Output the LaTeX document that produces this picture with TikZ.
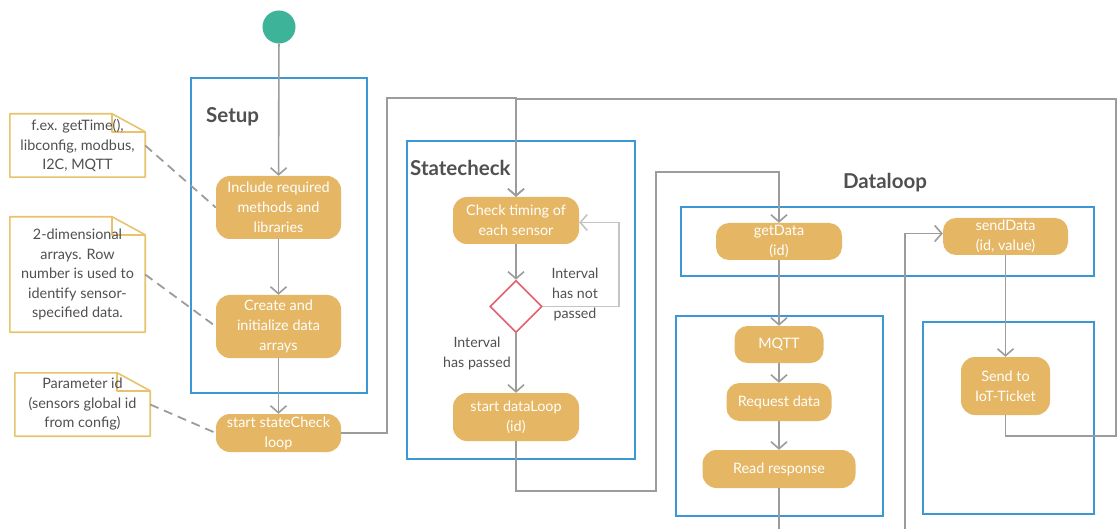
\documentclass[tikz,border=0pt]{standalone}
\usepackage{fontspec}
\setmainfont{Lato}
\usetikzlibrary{arrows.meta,shapes.geometric}
\definecolor{actgold}{HTML}{E5B664}
\definecolor{notegold}{HTML}{E8C36E}
\definecolor{grpblue}{HTML}{3C98D4}
\definecolor{linegray}{HTML}{9C9C9C}
\definecolor{lightline}{HTML}{C4C4C4}
\definecolor{startteal}{HTML}{3DB39A}
\definecolor{txtgray}{HTML}{505050}
\definecolor{decred}{HTML}{E2606E}
\tikzset{
  act/.style={fill=actgold, rounded corners=14pt, text=white, align=center,
    font=\fontsize{14.4}{20}\selectfont, inner sep=0pt},
  grp/.style={draw=grpblue, line width=1.6pt},
  flow/.style={draw=linegray, line width=1.6pt, -{Straight Barb[length=7pt,width=16pt]}},
  plain/.style={draw=linegray, line width=1.6pt},
  flowlight/.style={draw=lightline, line width=1.6pt, -{Straight Barb[length=7pt,width=16pt]}},
  dashline/.style={draw=linegray, line width=1.8pt, dash pattern=on 9pt off 6pt},
  notebox/.style={align=center, text=txtgray, font=\fontsize{14.4}{19.5}\selectfont, inner sep=0pt},
  grptitle/.style={text=txtgray, font=\fontsize{20.5}{24}\selectfont\bfseries, inner sep=0pt},
  lbl/.style={text=txtgray, align=center, font=\fontsize{14.2}{20}\selectfont, inner sep=0pt},
  dec/.style={diamond, draw=decred, fill=white, line width=1.6pt, minimum width=52pt, minimum height=52pt, inner sep=0pt, aspect=1},
}
\newcommand\drawnotefold[1]{%
  \draw[notegold, line width=1.6pt, line join=round]
    (#1.north west) -- ([xshift=-33pt]#1.north east) -- ([yshift=-18pt]#1.north east)
    -- (#1.south east) -- (#1.south west) -- cycle;
  \draw[notegold, line width=1.6pt, line join=round]
    ([xshift=-33pt]#1.north east) -- ([xshift=-33pt,yshift=-18pt]#1.north east) -- ([yshift=-18pt]#1.north east);
}
\begin{document}
\begin{tikzpicture}[x=1pt,y=-1pt]
\useasboundingbox (0,0) rectangle (1119,529);
\fill[white] (0,0) rectangle (1119,529);

% group boxes
\node[grp, minimum width=176pt, minimum height=315pt, inner sep=0pt] (gsetup) at (279,235.5) {};
\node[grp, minimum width=228pt, minimum height=318pt, inner sep=0pt] (gstate) at (521,300) {};
\node[grp, minimum width=413pt, minimum height=69pt, inner sep=0pt] (gtop) at (887.5,241.5) {};
\node[grp, minimum width=207pt, minimum height=200pt, inner sep=0pt] (gmqtt) at (779.5,416) {};
\node[grp, minimum width=171pt, minimum height=192pt, inner sep=0pt] (gsend) at (1008.5,418) {};

\node[grptitle, anchor=west] (tsetup) at (206,117) {Setup};
\node[grptitle, anchor=west] (tstate) at (410,168) {Statecheck};
\node[grptitle] (tdata) at (885,183) {Dataloop};

% start
\node[circle, fill=startteal, minimum size=33pt, inner sep=0pt] (start) at (279,27) {};

% notes (fold drawn before the text shows through)
\node[notebox, minimum width=135pt, minimum height=63pt] (n1) at (77.5,145.5) {};
\node[notebox, minimum width=135pt, minimum height=115pt] (n2) at (77.5,274.5) {};
\node[notebox, minimum width=135pt, minimum height=63pt] (n3) at (82.5,404.5) {};
\drawnotefold{n1}
\drawnotefold{n2}
\drawnotefold{n3}
\node[notebox] (n1t) at (n1) {f.ex. getTime(),\\libconfig, modbus,\\I2C, MQTT};
\node[notebox] (n2t) at (n2) {2-dimensional\\arrays. Row\\number is used to\\identify sensor-\\specified data.};
\node[notebox] (n3t) at (n3) {Parameter id\\(sensors global id\\from config)};

% activities
\node[act, minimum width=125pt, minimum height=63pt] (inc) at (278.5,207.5) {Include required\\methods and\\libraries};
\node[act, minimum width=125pt, minimum height=63pt] (cre) at (278.5,326.5) {Create and\\initialize data\\arrays};
\node[act, minimum width=125pt, minimum height=38pt] (stc) at (278.5,433) {start stateCheck\\loop};
\node[act, minimum width=126pt, minimum height=47pt] (chk) at (516,220.5) {Check timing of\\each sensor};
\node[dec] (dia) at (516,306.5) {};
\node[act, minimum width=126pt, minimum height=48pt] (dl) at (516,417) {start dataLoop\\(id)};
\node[act, minimum width=126pt, minimum height=37pt, rounded corners=13pt] (gd) at (779,241.5) {getData\\(id)};
\node[act, minimum width=125pt, minimum height=37pt, rounded corners=13pt] (snd) at (1005.5,236.5) {sendData\\(id, value)};
\node[act, minimum width=89pt, minimum height=37pt, rounded corners=13pt] (mq) at (779,344.5) {MQTT};
\node[act, minimum width=105pt, minimum height=38pt, rounded corners=13pt] (rq) at (779,402) {Request data};
\node[act, minimum width=153pt, minimum height=38pt, rounded corners=14pt] (rr) at (779,469) {Read response};
\node[act, minimum width=89pt, minimum height=58pt, rounded corners=14pt] (iot) at (1005.5,386) {Send to\\IoT-Ticket};

\draw[dashline] (n1.east) -- (inc.west);
\draw[dashline] (n2.east) -- (cre.west);
\draw[dashline] (n3.east) -- (stc.west);

% free ends
\coordinate (rrEnd) at (779,532);
\coordinate (sdIn) at (905,532);

% flows
\draw[flow] (start) -- (inc);
\draw[flow] (inc) -- (cre);
\draw[flow] (cre) -- (stc);
\draw[flow] (stc.east) -- (387,433) -- (387,98) -| (chk.north);
\draw[flow] (iot.south) |- (1116,436) -- (1116,99) -| (chk.north);
\draw[flow] (chk) -- (dia);
\draw[flowlight] (dia.east) -- (619,306.5) |- ([yshift=-2pt]chk.east);
\draw[flow] (dia) -- (dl);
\draw[flow] (dl.south) |- (656,491) -- (656,172) -| (gd.north);
\draw[flow] (gd) -- (mq);
\draw[flow] (mq) -- (rq);
\draw[flow] (rq) -- (rr);
\draw[plain] (rr) -- (rrEnd);
\draw[flow] (sdIn) |- ([yshift=3pt]snd.west);
\draw[flow] (snd) -- (iot);

% labels
\node[lbl] (lnp) at (575,294) {Interval\\has not\\passed};
\node[lbl] (lp) at (477,353) {Interval\\has passed};
\end{tikzpicture}
\end{document}
